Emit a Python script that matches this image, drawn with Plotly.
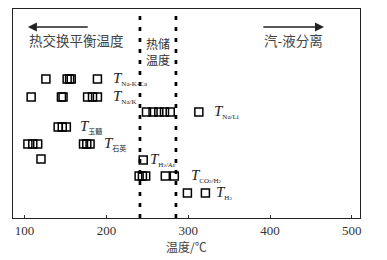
import plotly.graph_objects as go

# Temperatures (°C) for each geothermometer, and row level (arbitrary ordinate)
t_nakca = [126, 152, 155, 157, 189]
t_nak = [108, 145, 147, 177, 183, 189]
t_nali = [249, 257, 264, 271, 278, 313]
t_chal = [141, 146, 151]
t_quartz = [104, 110, 116, 172, 176, 180, 120]
t_h2ar = [245]
t_co2h2 = [240, 244, 248, 272, 283]
t_h2 = [299, 321]

lvl_nakca = 139
lvl_nak = 121
lvl_nali = 106
lvl_chal = 91
lvl_quartz = [74, 74, 74, 74, 74, 74, 59]
lvl_h2ar = 58
lvl_co2h2 = 42
lvl_h2 = 25

reservoir_bounds = [241, 285]
x_ticks = [100, 200, 300, 400, 500]

series = [
    (t_nakca, [lvl_nakca] * len(t_nakca), "Na-K-Ca", 206),
    (t_nak, [lvl_nak] * len(t_nak), "Na/K", 206),
    (t_nali, [lvl_nali] * len(t_nali), "Na/Li", 329),
    (t_chal, [lvl_chal] * len(t_chal), "玉髓", 165),
    (t_quartz, lvl_quartz, "石英", 195),
    (t_h2ar, [lvl_h2ar] * len(t_h2ar), "H<sub>2</sub>/Ar", 251),
    (t_co2h2, [lvl_co2h2] * len(t_co2h2), "CO<sub>2</sub>/H<sub>2</sub>", 301),
    (t_h2, [lvl_h2] * len(t_h2), "H<sub>2</sub>", 332),
]

fig = go.Figure()
for xs, ys, name, lx in series:
    fig.add_trace(go.Scatter(
        x=xs, y=ys, mode="markers", showlegend=False, hoverinfo="skip",
        marker=dict(symbol="square-open", size=8, color="black",
                    line=dict(width=1.5, color="black")),
    ))

label_y = {"Na-K-Ca": lvl_nakca, "Na/K": lvl_nak, "Na/Li": lvl_nali,
           "玉髓": lvl_chal, "石英": 74}

serif = "Liberation Serif, Noto Sans CJK SC"
cjk = "Noto Sans CJK SC"

annotations = []
for xs, ys, name, lx in series:
    ly = label_y.get(name, ys[0])
    sub = name.replace("<sub>", "<span style='font-size:5px'>").replace("</sub>", "</span>")
    annotations.append(dict(
        x=lx, y=ly, xref="x", yref="y", xanchor="left", yanchor="middle",
        text="<i>T</i><sub><span style='font-size:7px'>" + sub + "</span></sub>",
        showarrow=False, font=dict(family=serif, size=15, color="#222"),
    ))

# region texts
annotations += [
    dict(x=163, y=178, xref="x", yref="y", text="热交换平衡温度", showarrow=False,
         font=dict(family=cjk, size=13.5, color="#444")),
    dict(x=429, y=178, xref="x", yref="y", text="汽-液分离", showarrow=False,
         font=dict(family=cjk, size=13.5, color="#444")),
    dict(x=263, y=175, xref="x", yref="y", text="热储", showarrow=False,
         font=dict(family=cjk, size=12, color="#333")),
    dict(x=263, y=159, xref="x", yref="y", text="温度", showarrow=False,
         font=dict(family=cjk, size=12, color="#333")),
    # x-axis title
    dict(x=0.5, y=0, xref="paper", yref="paper", yshift=-28, yanchor="middle",
         text="温度/℃", showarrow=False,
         font=dict(family=cjk, size=12, color="#444")),
    # arrows
    dict(x=104, y=191, ax=179, ay=191, xref="x", yref="y", axref="x", ayref="y",
         text="", showarrow=True, arrowhead=2, arrowsize=1.2, arrowwidth=1.5,
         arrowcolor="#222"),
    dict(x=466, y=191, ax=390, ay=191, xref="x", yref="y", axref="x", ayref="y",
         text="", showarrow=True, arrowhead=2, arrowsize=1.2, arrowwidth=1.5,
         arrowcolor="#222"),
]

shapes = [
    dict(type="line", x0=b, x1=b, y0=0, y1=1, xref="x", yref="paper",
         line=dict(color="black", width=2.7, dash="4px,7px"))
    for b in reservoir_bounds
]

fig.update_layout(
    width=387, height=260,
    margin=dict(l=13, r=27, t=9, b=42, autoexpand=False),
    paper_bgcolor="white", plot_bgcolor="white",
    annotations=annotations, shapes=shapes,
    hovermode=False,
    xaxis=dict(
        range=[85.8, 510], tickvals=x_ticks, ticktext=[str(v) for v in x_ticks],
        ticks="inside", ticklen=3, tickwidth=1, tickcolor="#333",
        showline=True, linecolor="#222", linewidth=1.2, mirror=True,
        showgrid=False, zeroline=False, automargin=False,
        tickfont=dict(family="Liberation Serif", size=13, color="#333"),
    ),
    yaxis=dict(
        range=[0, 209], showticklabels=False, ticks="",
        showline=True, linecolor="#222", linewidth=1.2, mirror=True,
        showgrid=False, zeroline=False, automargin=False,
    ),
)

fig.write_html("out.html", config={"displayModeBar": False, "staticPlot": True},
               post_script="document.body.style.margin='0';document.body.style.overflow='hidden';")
